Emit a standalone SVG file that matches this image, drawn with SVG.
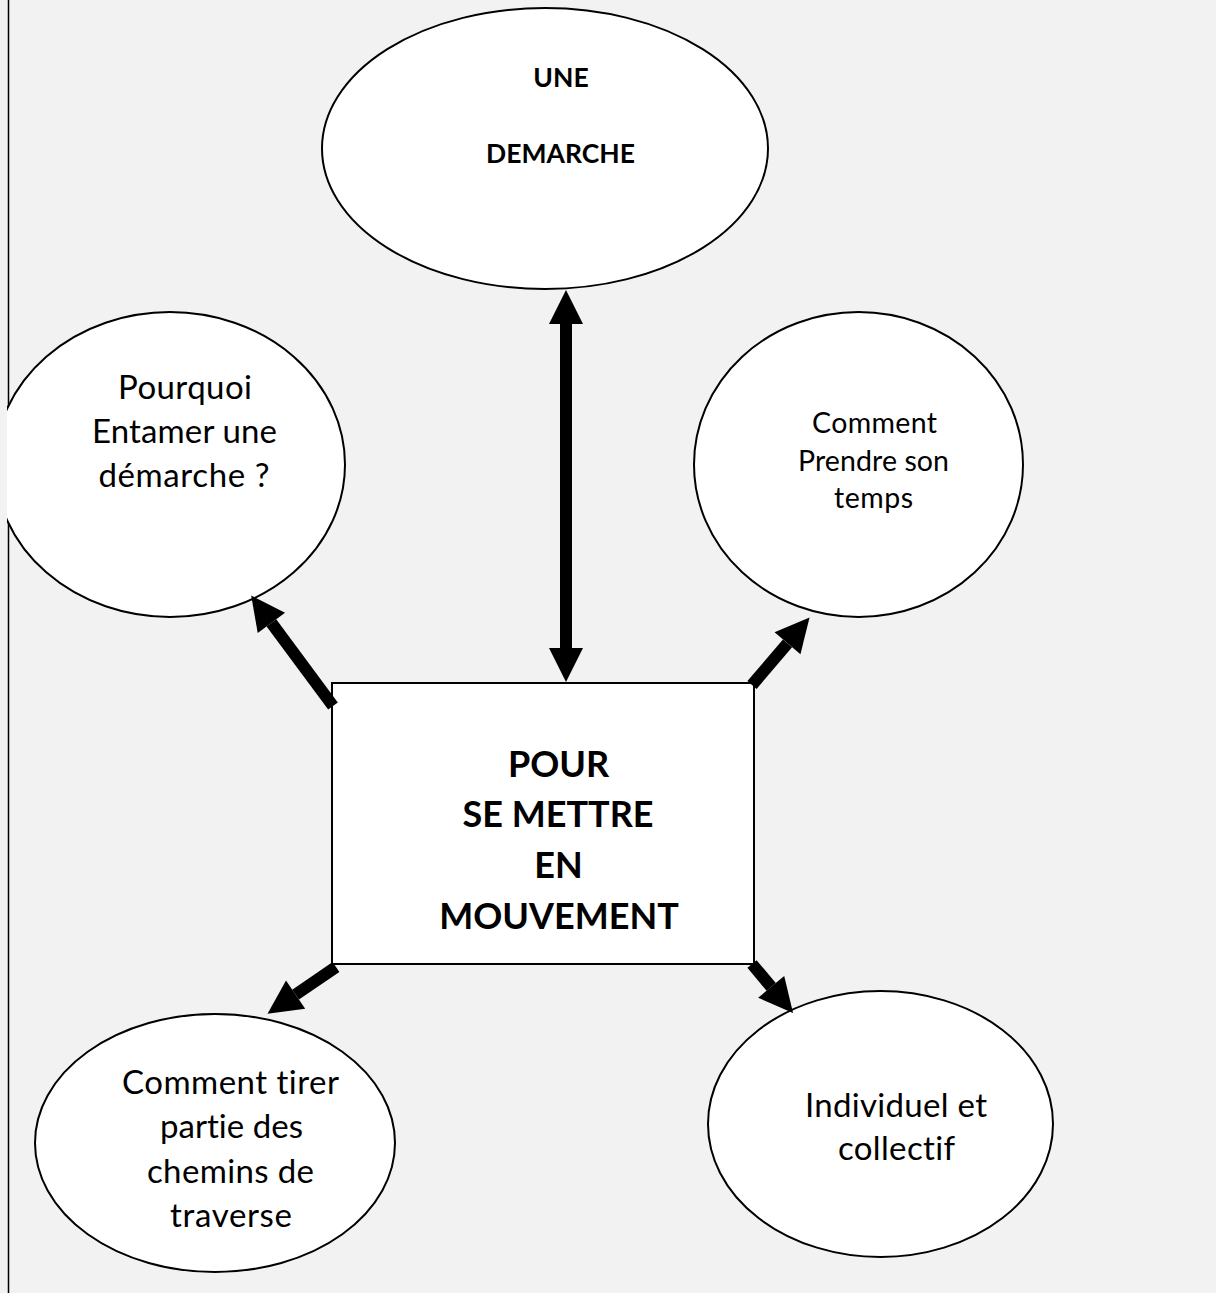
<svg xmlns="http://www.w3.org/2000/svg" width="1216" height="1293" viewBox="0 0 1216 1293">
<style>
.bg{fill:#f2f2f2}
.node{fill:#ffffff;stroke:#000000;stroke-width:2}
.t{font-family:Lato,"Liberation Sans",sans-serif;fill:#000000;text-anchor:middle;font-variant-ligatures:none;font-feature-settings:"liga" 0,"clig" 0}
.b{font-weight:bold}
.conn{stroke:#000000;stroke-width:12;fill:none;stroke-linecap:butt}
</style>
<defs>
<marker id="head" markerUnits="userSpaceOnUse" markerWidth="34" markerHeight="34" refX="0" refY="17" orient="auto-start-reverse" viewBox="0 0 34 34" overflow="visible">
<path d="M0,0 L34,17 L0,34 Z" fill="#000000"/>
</marker>
<clipPath id="clipLeft"><rect x="7" y="0" width="1209" height="1293"/></clipPath>
</defs>
<rect class="bg" x="0" y="0" width="1216" height="1293"/>
<line x1="8.5" y1="0" x2="8.5" y2="1293" stroke="#000000" stroke-width="1.5"/>

<g id="node-demarche">
<ellipse class="node" cx="545" cy="148.5" rx="223" ry="140.5"/>
<text class="t b" x="561" y="87" font-size="26.5">UNE</text>
<text class="t b" x="560.5" y="163" font-size="26.5">DEMARCHE</text>
</g>

<g id="node-pourquoi" clip-path="url(#clipLeft)">
<ellipse class="node" cx="170" cy="464.5" rx="175" ry="152.5"/>
<text class="t" font-size="33"><tspan x="185" y="399" textLength="134">Pourquoi</tspan><tspan x="184.5" y="443" textLength="185">Entamer une</tspan><tspan x="184" y="487" textLength="171">démarche ?</tspan></text>
</g>

<g id="node-comment-temps">
<ellipse class="node" cx="858.5" cy="464.5" rx="164.5" ry="152.5"/>
<text class="t" font-size="28.5"><tspan x="874.5" y="433" textLength="125">Comment</tspan><tspan x="873.5" y="471" textLength="151">Prendre son</tspan><tspan x="873.5" y="508" textLength="79">temps</tspan></text>
</g>

<g id="node-center">
<rect class="node" x="332" y="683" width="422" height="281"/>
<text class="t b" font-size="36"><tspan x="558.5" y="777">POUR</tspan><tspan x="558" y="827">SE METTRE</tspan><tspan x="558.5" y="878">EN</tspan><tspan x="559" y="929">MOUVEMENT</tspan></text>
</g>

<g id="node-chemins">
<ellipse class="node" cx="215" cy="1143" rx="180" ry="129"/>
<text class="t" font-size="33"><tspan x="230.5" y="1094" textLength="217">Comment tirer</tspan><tspan x="231.5" y="1138" textLength="143">partie des</tspan><tspan x="230.5" y="1183" textLength="167">chemins de</tspan><tspan x="231" y="1227" textLength="122">traverse</tspan></text>
</g>

<g id="node-individuel">
<ellipse class="node" cx="880.5" cy="1124" rx="172.5" ry="133"/>
<text class="t" font-size="33"><tspan x="896" y="1117" textLength="182">Individuel et</tspan><tspan x="896.5" y="1160" textLength="117">collectif</tspan></text>
</g>

<g id="connectors">
<line class="conn" x1="566" y1="324" x2="566" y2="648" marker-start="url(#head)" marker-end="url(#head)"/>
<line class="conn" x1="333" y1="706" x2="271.4" y2="622.9" marker-end="url(#head)"/>
<line class="conn" x1="752" y1="685" x2="787.5" y2="643.3" marker-end="url(#head)"/>
<line class="conn" x1="336" y1="967" x2="295.6" y2="994.6" marker-end="url(#head)"/>
<line class="conn" x1="752" y1="964" x2="771.2" y2="986.9" marker-end="url(#head)"/>
</g>
</svg>
